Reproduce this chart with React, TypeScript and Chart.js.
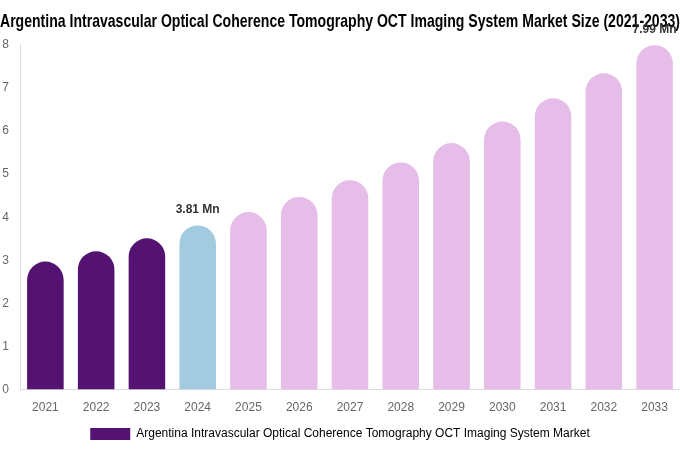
import { useEffect, useRef } from "react";
import { Chart, registerables, type ChartConfiguration, type Plugin } from "chart.js";

Chart.register(...registerables);

const years = ["2021", "2022", "2023", "2024", "2025", "2026", "2027", "2028", "2029", "2030", "2031", "2032", "2033"];
const marketSize = [2.97, 3.21, 3.51, 3.81, 4.12, 4.47, 4.86, 5.27, 5.72, 6.22, 6.76, 7.34, 7.99];
const barColors = [
  "#541271", "#541271", "#541271", "#a3cbe0",
  "#e6bde9", "#e6bde9", "#e6bde9", "#e6bde9", "#e6bde9",
  "#e6bde9", "#e6bde9", "#e6bde9", "#e6bde9",
];
const labelledYears = ["2024", "2033"];

const TITLE = "Argentina Intravascular Optical Coherence Tomography OCT Imaging System Market Size (2021-2033)";
const SERIES = "Argentina Intravascular Optical Coherence Tomography OCT Imaging System Market";

// etiquetas "x.xx Mn" solo sobre las barras marcadas
const valueLabels: Plugin<"bar"> = {
  id: "valueLabels",
  afterDatasetsDraw(chart) {
    const { ctx } = chart;
    const meta = chart.getDatasetMeta(0);
    ctx.save();
    ctx.font = "bold 12px 'Liberation Sans', Arial, sans-serif";
    ctx.fillStyle = "#333333";
    ctx.textAlign = "center";
    ctx.textBaseline = "bottom";
    meta.data.forEach((bar, i) => {
      if (!labelledYears.includes(years[i])) return;
      ctx.fillText(`${marketSize[i].toFixed(2)} Mn`, bar.x, bar.y - 10);
    });
    ctx.restore();
  },
};

function MarketChart() {
  const canvasRef = useRef<HTMLCanvasElement>(null);
  const chartRef = useRef<Chart | null>(null);

  useEffect(() => {
    if (!canvasRef.current) return;
    const cfg: ChartConfiguration<"bar", number[], string> = {
      type: "bar",
      data: {
        labels: years,
        datasets: [
          {
            label: SERIES,
            data: marketSize,
            backgroundColor: barColors,
            borderRadius: { topLeft: 100, topRight: 100, bottomLeft: 0, bottomRight: 0 },
            borderSkipped: "start",
          },
        ],
      },
      options: {
        animation: false,
        responsive: true,
        maintainAspectRatio: false,
        layout: { padding: { left: 0, right: 0, top: 2, bottom: 0 } },
        scales: {
          x: {
            grid: { display: false },
            border: { display: true, color: "#dddddd" },
            ticks: { color: "#666666", font: { size: 12, family: "'Liberation Sans', Arial, sans-serif" } },
          },
          y: {
            min: 0,
            max: 8,
            grid: { display: false, drawTicks: false },
            border: { display: true, color: "#dddddd" },
            ticks: {
              stepSize: 1,
              color: "#666666",
              padding: 11,
              font: { size: 12, family: "'Liberation Sans', Arial, sans-serif" },
            },
            // eje fijo a 20px como en la referencia
            afterFit: (scale) => {
              scale.width = 20;
            },
          },
        },
        plugins: {
          title: {
            display: true,
            text: TITLE,
            color: "#000000",
            font: { size: 19, weight: "bold", family: "'Liberation Sans Narrow', 'Liberation Sans', sans-serif" },
            padding: { top: 8, bottom: 12 },
          },
          legend: {
            position: "bottom",
            labels: {
              color: "#666666",
              boxWidth: 40,
              boxHeight: 12,
              font: { size: 12, family: "'Liberation Sans', Arial, sans-serif" },
              generateLabels: () => [
                { text: SERIES, fillStyle: barColors[0], strokeStyle: barColors[0], lineWidth: 0, datasetIndex: 0 },
              ],
            },
          },
          tooltip: { enabled: false },
        },
      },
      plugins: [valueLabels],
    };
    chartRef.current = new Chart(canvasRef.current, cfg);
    return () => {
      chartRef.current?.destroy();
      chartRef.current = null;
    };
  }, []);

  return (
    <div style={{ position: "relative", width: 680, height: 450 }}>
      <canvas ref={canvasRef} />
    </div>
  );
}

export default function App() {
  useEffect(() => {
    document.body.style.margin = "0";
  }, []);
  return <MarketChart />;
}
